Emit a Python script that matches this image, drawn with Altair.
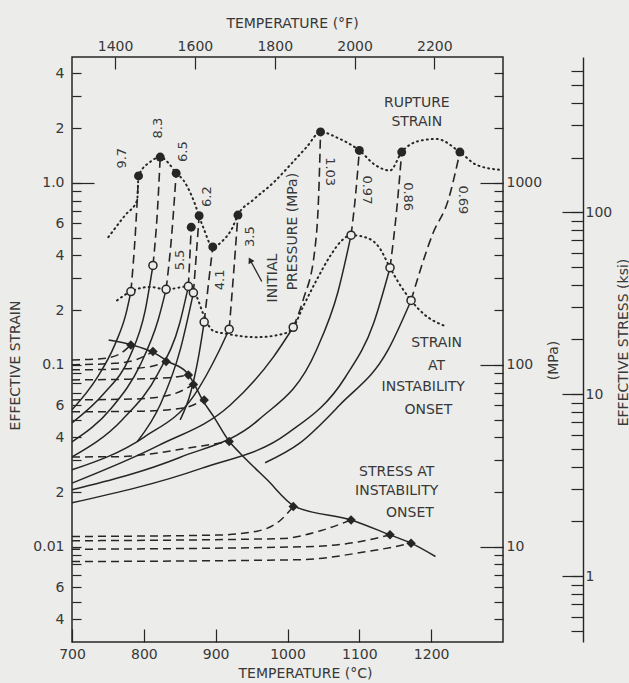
import altair as alt
import pandas as pd

FONT = "DejaVu Sans"
INK = "#262626"
TXT = "#383838"
BG = "#ececea"

W, H = 431, 585
T_DOMAIN = [700, 1300]
Y_DOMAIN = [0.003, 4.92]

TESTS = ["9.7", "8.3", "6.5", "5.5", "6.2", "4.1", "3.5", "1.03", "0.97", "0.86", "0.69"]

RUPTURE_T = [792.6, 822.8, 845, 866, 877, 896, 931, 1046, 1100, 1159, 1240]
RUPTURE_STRAIN = [1.093, 1.387, 1.131, 0.571, 0.66, 0.445, 0.666, 1.906, 1.508, 1.477, 1.477]

ONSET_T = [782, 812.7, 831, 862, 869, 884, 918.8, 1008, 1088.5, 1142.7, 1172]
ONSET_STRAIN = [0.253, 0.352, 0.26, 0.27, 0.249, 0.172, 0.157, 0.161, 0.516, 0.342, 0.226]
ONSET_STRESS_MPA = [128.8, 118.3, 104.3, 88, 78, 64.2, 37.9, 16.65, 14.06, 11.64, 10.48]

# strain history before instability onset (solid)
CURVE_T = {
    "9.7": [700, 735, 760, 775],
    "8.3": [700, 745, 780, 802],
    "6.5": [700, 755, 795, 820],
    "5.5": [700, 770, 820, 850],
    "6.2": [790.8, 822.8, 850.6],
    "4.1": [850.6, 865, 876],
    "3.5": [700, 800, 870, 905],
    "1.03": [700, 820, 920, 980],
    "0.97": [700, 850, 960, 1040, 1070],
    "0.86": [700, 880, 1000, 1080, 1120],
    "0.69": [968.8, 1017.5, 1073, 1140],
}
CURVE_STRAIN = {
    "9.7": [0.0566, 0.085, 0.13, 0.19],
    "8.3": [0.048, 0.07, 0.11, 0.2],
    "6.5": [0.0378, 0.058, 0.1, 0.177],
    "5.5": [0.0312, 0.05, 0.09, 0.17],
    "6.2": [0.0378, 0.0604, 0.1209],
    "4.1": [0.0499, 0.07, 0.11],
    "3.5": [0.0265, 0.04, 0.068, 0.12],
    "1.03": [0.0224, 0.036, 0.06, 0.11],
    "0.97": [0.0206, 0.031, 0.05, 0.12, 0.25],
    "0.86": [0.01745, 0.027, 0.042, 0.085, 0.17],
    "0.69": [0.029, 0.0373, 0.0604, 0.1209],
}

# dashed path from instability onset to rupture (intermediate points)
PATH_T = {
    "9.7": [788.2], "8.3": [819], "6.5": [839], "5.5": [864], "6.2": [873],
    "4.1": [890], "3.5": [925], "1.03": [1021.8, 1038, 1044],
    "0.97": [1095], "0.86": [1152], "0.69": [1202.5, 1223.8],
}
PATH_STRAIN = {
    "9.7": [0.529], "8.3": [0.711], "6.5": [0.529], "5.5": [0.39], "6.2": [0.4],
    "4.1": [0.28], "3.5": [0.32], "1.03": [0.2276, 0.428, 1.0],
    "0.97": [0.877], "0.86": [0.711], "0.69": [0.529, 0.806],
}

# effective stress history (dashed) up to instability onset, MPa
STRESS_T = {
    "9.7": [700, 740, 765], "8.3": [700, 760, 790], "6.5": [700, 770, 810],
    "5.5": [700, 780, 835], "6.2": [700, 790, 840], "4.1": [700, 800, 855],
    "3.5": [700, 767, 809, 860, 902], "1.03": [700, 900, 958, 991],
    "0.97": [700, 991, 1047], "0.86": [700, 1019, 1102],
    "0.69": [700, 1019, 1102, 1148],
}
STRESS_MPA = {
    "9.7": [106.5, 108, 114], "8.3": [100.2, 102, 107], "6.5": [93.9, 95, 98],
    "5.5": [82.7, 83.5, 85], "6.2": [64.2, 65, 69], "4.1": [55.2, 55.7, 58],
    "3.5": [31.2, 31.3, 32.4, 34.8, 37.0], "1.03": [11.4, 11.6, 12.2, 14.1],
    "0.97": [10.8, 11.1, 12.3], "0.86": [9.7, 10.0, 10.7],
    "0.69": [8.3, 8.5, 9.3, 10.0],
}

STRESS_ONSET_T = [751, 783.4, 811, 834, 860.4, 869, 881.6, 897, 919, 934, 971, 1010.6, 1088.5, 1142.7, 1172, 1206]
STRESS_ONSET_MPA = [137, 128.8, 118.3, 104.3, 90.2, 80, 64.2, 52.1, 37.9, 32.7, 23.5, 16.65, 14.06, 11.64, 10.48, 8.85]

RUPTURE_ENV_T = [750.6, 774, 790.8, 792.6, 809, 822.8, 834, 845, 854.8, 867.3, 882.6, 896, 910.4, 923, 931,
                 952, 980, 1007.8, 1027, 1046, 1069, 1100, 1121.8, 1142.7, 1159, 1184.4, 1207.6, 1240, 1263, 1296]
RUPTURE_ENV_STRAIN = [0.503, 0.665, 0.805, 1.093, 1.306, 1.387, 1.29, 1.131, 1.039, 0.837, 0.571, 0.445, 0.484,
                      0.564, 0.666, 0.805, 1.0, 1.306, 1.58, 1.906, 1.773, 1.508, 1.257, 1.17, 1.477, 1.706,
                      1.744, 1.477, 1.257, 1.18]

ONSET_ENV_T = [762.6, 782, 809, 831, 862, 874, 882.6, 896.5, 915.6, 957, 994, 1008, 1022, 1040, 1060, 1075,
               1088.5, 1110, 1128, 1142.7, 1158, 1172, 1190, 1219]
ONSET_ENV_STRAIN = [0.226, 0.253, 0.268, 0.26, 0.27, 0.235, 0.191, 0.154, 0.148, 0.142, 0.148, 0.161, 0.21,
                    0.29, 0.40, 0.48, 0.516, 0.50, 0.44, 0.342, 0.27, 0.226, 0.19, 0.1636]

LABEL_T = [769.5, 820.4, 855.2, 850.6, 887.8, 906.3, 948, 1059.2, 1110.3, 1168.1, 1244.6]
LABEL_STRAIN = [1.367, 2.0, 1.486, 0.377, 0.841, 0.293, 0.507, 1.154, 0.915, 0.841, 0.807]
LABEL_ANGLE = [270, 270, 270, 270, 270, 270, 270, 90, 90, 90, 90]

NOTE_TEXT = ["RUPTURE", "STRAIN", "STRAIN", "AT", "INSTABILITY", "ONSET", "STRESS AT", "INSTABILITY",
             "ONSET", "INITIAL", "PRESSURE (MPa)"]
NOTE_T = [1180, 1180, 1207.6, 1207.6, 1189, 1196, 1152, 1152, 1170.5, 980.4, 1008.2]
NOTE_STRAIN = [2.75, 2.17, 0.1316, 0.0987, 0.0754, 0.0566, 0.0259, 0.0203, 0.0153, 0.30, 0.54]
NOTE_ANGLE = [0, 0, 0, 0, 0, 0, 0, 0, 0, 270, 270]

ARROW_T = [964.2, 948]
ARROW_STRAIN = [0.287, 0.377]

LEFT_TICKS = [4, 3, 2, 1.0, 0.9, 0.8, 0.7, 0.6, 0.5, 0.4, 0.3, 0.2, 0.1, 0.09, 0.08, 0.07, 0.06, 0.05,
              0.04, 0.03, 0.02, 0.01, 0.009, 0.008, 0.007, 0.006, 0.005, 0.004]
LEFT_LABELS = ["4", "", "2", "1.0", "", "", "", "6", "", "4", "", "2", "0.1", "", "", "", "6", "", "4",
               "", "2", "0.01", "", "", "", "6", "", "4"]
MPA_LABELS = {0.01: "10", 0.1: "100", 1.0: "1000"}
C_TICKS = [700, 800, 900, 1000, 1100, 1200]
F_TICKS = [1400, 1600, 1800, 2000, 2200]
KSI_TICKS = [0.5, 0.6, 0.7, 0.8, 0.9, 1, 2, 3, 4, 5, 6, 7, 8, 9, 10, 20, 30, 40, 50, 60, 70, 80, 90,
             100, 200, 300, 400, 500, 600]
KSI_LABELED = [1, 10, 100]
MPA_PER_KSI = 6.894757

# ---------------------------------------------------------------- tables
def path_rows(store, test, ts, vs):
    for i, (t, v) in enumerate(zip(ts, vs)):
        store.append({"test": test, "T": t, "v": v, "i": i})

solid_rows, conn_rows, stress_rows = [], [], []
for k, tst in enumerate(TESTS):
    path_rows(solid_rows, tst, CURVE_T[tst] + [ONSET_T[k]], CURVE_STRAIN[tst] + [ONSET_STRAIN[k]])
    path_rows(conn_rows, tst, [ONSET_T[k]] + PATH_T[tst] + [RUPTURE_T[k]],
              [ONSET_STRAIN[k]] + PATH_STRAIN[tst] + [RUPTURE_STRAIN[k]])
    path_rows(stress_rows, tst, STRESS_T[tst] + [ONSET_T[k]],
              [m / 1000 for m in STRESS_MPA[tst] + [ONSET_STRESS_MPA[k]]])

df_solid = pd.DataFrame(solid_rows)
df_conn = pd.DataFrame(conn_rows)
df_stress = pd.DataFrame(stress_rows)
df_stress_env = pd.DataFrame({"T": STRESS_ONSET_T, "v": [m / 1000 for m in STRESS_ONSET_MPA]})
df_rup_env = pd.DataFrame({"T": RUPTURE_ENV_T, "v": RUPTURE_ENV_STRAIN})
df_ons_env = pd.DataFrame({"T": ONSET_ENV_T, "v": ONSET_ENV_STRAIN})
df_rup = pd.DataFrame({"T": RUPTURE_T, "v": RUPTURE_STRAIN})
df_ons = pd.DataFrame({"T": ONSET_T, "v": ONSET_STRAIN})
df_dia = pd.DataFrame({"T": ONSET_T, "v": [m / 1000 for m in ONSET_STRESS_MPA]})
df_lab = pd.DataFrame({"T": LABEL_T, "v": LABEL_STRAIN, "text": TESTS, "angle": LABEL_ANGLE})
df_note = pd.DataFrame({"T": NOTE_T, "v": NOTE_STRAIN, "text": NOTE_TEXT, "angle": NOTE_ANGLE})
df_arrow = pd.DataFrame({"T": ARROW_T, "v": ARROW_STRAIN, "i": [0, 1]})
ANCHOR = pd.DataFrame({"T": [1000.0], "v": [0.1]})

XS = alt.Scale(domain=T_DOMAIN, nice=False, zero=False)
YS = alt.Scale(type="log", domain=Y_DOMAIN, nice=False)


def label_expr(pairs):
    parts = [f"datum.value == {v!r} ? '{t}'" for v, t in pairs if t]
    return " : ".join(parts) + " : ''"


def X(axis=None):
    return alt.X("T:Q", scale=XS, axis=axis)


def Y(axis=None):
    return alt.Y("v:Q", scale=YS, axis=axis)


def axis_layer(xaxis=None, yaxis=None):
    return alt.Chart(ANCHOR).mark_point(opacity=0, size=1).encode(x=X(xaxis), y=Y(yaxis))


common = dict(grid=False, labelOverlap=False, labelFlush=False, domain=False)

left_axis = alt.Axis(orient="left", values=LEFT_TICKS, labelExpr=label_expr(zip(LEFT_TICKS, LEFT_LABELS)),
                     offset=-9, tickSize=9, labelPadding=8, title="EFFECTIVE STRAIN", titleAngle=270,
                     titleX=-66, titleY=308, titleAlign="center", titleBaseline="middle", **common)
left_long = alt.Axis(orient="left", values=[1.0], offset=-22, tickSize=22, labels=False, title="", **common)
bottom_axis = alt.Axis(orient="bottom", values=C_TICKS, format="d", offset=-13, tickSize=13, labelPadding=5,
                       title="TEMPERATURE (°C)", titleX=233, titleY=44, titleAlign="center",
                       titleBaseline="middle", **common)
top_axis = alt.Axis(orient="top", values=[(f - 32) * 5 / 9 for f in F_TICKS],
                    labelExpr="format(datum.value * 9 / 5 + 32, '.0f')", offset=-12, tickSize=12,
                    labelPadding=4, title="TEMPERATURE (°F)", titleX=220, titleY=-46, titleAlign="center",
                    titleBaseline="middle", **common)
mpa_axis = alt.Axis(orient="right", values=LEFT_TICKS, labelExpr=label_expr(MPA_LABELS.items()),
                    offset=-9, tickSize=9, labelPadding=3, title="(MPa)", titleAngle=270, titleX=59,
                    titleY=303, titleAlign="center", titleBaseline="middle", **common)
mpa_long = alt.Axis(orient="right", values=list(MPA_LABELS.keys()), offset=-23, tickSize=23, labels=False,
                    title="", **common)
ksi_vals = [k * MPA_PER_KSI / 1000 for k in KSI_TICKS]
ksi_pairs = [(k * MPA_PER_KSI / 1000, str(k) if k in KSI_LABELED else "") for k in KSI_TICKS]
ksi_axis = alt.Axis(orient="right", values=ksi_vals, labelExpr=label_expr(ksi_pairs), offset=68,
                    tickSize=12, labelPadding=2, title="", **common)
ksi_long = alt.Axis(orient="right", values=[k * MPA_PER_KSI / 1000 for k in KSI_LABELED], offset=59,
                    tickSize=21, labels=False, title="", **common)
ksi_line = alt.Axis(orient="right", offset=80, domain=True, ticks=False, labels=False, grid=False,
                    title="EFFECTIVE STRESS (ksi)", titleAngle=270, titleX=40, titleY=285,
                    titleAlign="center", titleBaseline="middle")

axes = [
    axis_layer(bottom_axis, left_axis),
    axis_layer(top_axis, left_long),
    axis_layer(None, mpa_axis),
    axis_layer(None, mpa_long),
    axis_layer(None, ksi_axis),
    axis_layer(None, ksi_long),
    axis_layer(None, ksi_line),
]

stress_dash = alt.Chart(df_stress).mark_line(color=INK, strokeWidth=1.5, strokeDash=[8, 5],
                                             interpolate="monotone").encode(
    x=X(), y=Y(), detail="test:N", order="i:Q")
stress_env = alt.Chart(df_stress_env).mark_line(color=INK, strokeWidth=1.5, interpolate="monotone").encode(
    x=X(), y=Y())
solid = alt.Chart(df_solid).mark_line(color=INK, strokeWidth=1.5, interpolate="monotone").encode(
    x=X(), y=Y(), detail="test:N", order="i:Q")
conn = alt.Chart(df_conn).mark_line(color=INK, strokeWidth=1.6, strokeDash=[9, 5],
                                    interpolate="monotone").encode(
    x=X(), y=Y(), detail="test:N", order="i:Q")
rup_env = alt.Chart(df_rup_env).mark_line(color=INK, strokeWidth=2, strokeDash=[1, 4], strokeCap="round",
                                          interpolate="monotone").encode(x=X(), y=Y())
ons_env = alt.Chart(df_ons_env).mark_line(color=INK, strokeWidth=2, strokeDash=[1, 4], strokeCap="round",
                                          interpolate="monotone").encode(x=X(), y=Y())
diamonds = alt.Chart(df_dia).mark_point(shape="diamond", filled=True, size=90, color=INK, opacity=1).encode(
    x=X(), y=Y())
opens = alt.Chart(df_ons).mark_point(shape="circle", filled=True, fill=BG, stroke=INK, strokeWidth=1.5,
                                     size=65, opacity=1).encode(x=X(), y=Y())
rups = alt.Chart(df_rup).mark_point(shape="circle", filled=True, size=80, color=INK, opacity=1).encode(
    x=X(), y=Y())
labels = alt.Chart(df_lab).mark_text(font=FONT, fontSize=13, color=TXT).encode(
    x=X(), y=Y(), text="text:N", angle=alt.Angle("angle:Q", scale=None))
notes = alt.Chart(df_note).mark_text(font=FONT, fontSize=14, color=TXT).encode(
    x=X(), y=Y(), text="text:N", angle=alt.Angle("angle:Q", scale=None))
arrow_line = alt.Chart(df_arrow).mark_line(color=INK, strokeWidth=1.3).encode(x=X(), y=Y(), order="i:Q")
arrow_head = alt.Chart(df_arrow[df_arrow["i"] == 1]).mark_point(shape="triangle-up", angle=332, filled=True,
                                                                 size=45, color=INK, opacity=1).encode(
    x=X(), y=Y())

chart = alt.layer(
    *axes, stress_dash, stress_env, solid, conn, rup_env, ons_env, diamonds, opens, rups, labels, notes,
    arrow_line, arrow_head
).resolve_axis(x="independent", y="independent").properties(
    width=W, height=H,
    padding={"left": 72, "top": 57, "right": 126, "bottom": 41},
    autosize=alt.AutoSizeParams(type="none"),
    background=BG,
).configure_view(stroke=INK, strokeWidth=1.5).configure_axis(
    labelFont=FONT, labelFontSize=14, labelColor=TXT, tickColor=INK, tickWidth=1.2,
    domainColor=INK, domainWidth=1.4, titleFont=FONT, titleFontSize=14, titleFontWeight="normal",
    titleColor=TXT,
)

chart.save("out.html", embed_options={"renderer": "svg", "actions": False})
